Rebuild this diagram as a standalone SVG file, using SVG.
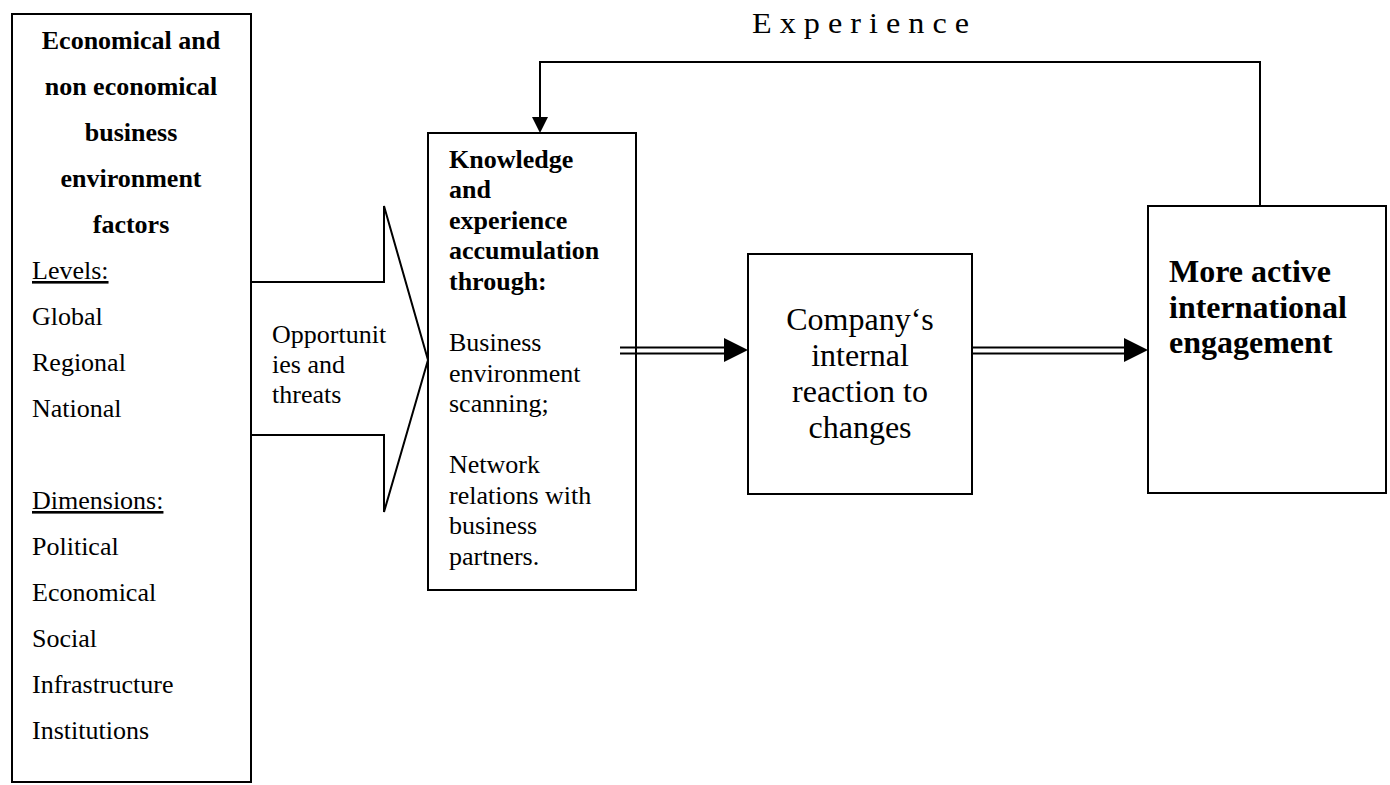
<svg xmlns="http://www.w3.org/2000/svg" width="1390" height="785" viewBox="0 0 1390 785">
<style>
  .box { fill: #fff; stroke: #000; stroke-width: 2; }
  .ln { fill: none; stroke: #000; stroke-width: 2; }
  .t { font-family: "Liberation Serif", "Times New Roman", serif; fill: #000; }
  .s26 { font-size: 26px; }
  .s32 { font-size: 32px; }
  .b { font-weight: bold; }
  .u { text-decoration: underline; }
  .head { fill: #000; stroke: none; }
</style>
<rect width="1390" height="785" fill="#fff"/>

<g id="env-factors">
  <rect class="box" x="12" y="14" width="239" height="768"/>
  <g class="t s26 b" text-anchor="middle">
    <text x="131" y="49">Economical and</text>
    <text x="131" y="95">non economical</text>
    <text x="131" y="141">business</text>
    <text x="131" y="187">environment</text>
    <text x="131" y="233">factors</text>
  </g>
  <g class="t s26">
    <text x="32" y="279" class="u">Levels:</text>
    <text x="32" y="325">Global</text>
    <text x="32" y="371">Regional</text>
    <text x="32" y="417">National</text>
    <text x="32" y="509" class="u">Dimensions:</text>
    <text x="32" y="555">Political</text>
    <text x="32" y="601">Economical</text>
    <text x="32" y="647">Social</text>
    <text x="32" y="693">Infrastructure</text>
    <text x="32" y="739">Institutions</text>
  </g>
</g>

<g id="opportunities-arrow">
  <polygon class="box" points="251,282 384,282 384,206 428,360 384,512 384,435 251,435"/>
  <g class="t s26">
    <text x="272" y="343">Opportunit</text>
    <text x="272" y="373">ies and</text>
    <text x="272" y="403">threats</text>
  </g>
</g>

<g id="knowledge">
  <rect class="box" x="428" y="133" width="208" height="457"/>
  <g class="t s26 b">
    <text x="449" y="168">Knowledge</text>
    <text x="449" y="198">and</text>
    <text x="449" y="229">experience</text>
    <text x="449" y="259">accumulation</text>
    <text x="449" y="290">through:</text>
  </g>
  <g class="t s26">
    <text x="449" y="351">Business</text>
    <text x="449" y="382">environment</text>
    <text x="449" y="412">scanning;</text>
    <text x="449" y="473">Network</text>
    <text x="449" y="504">relations with</text>
    <text x="449" y="534">business</text>
    <text x="449" y="565">partners.</text>
  </g>
</g>

<g id="reaction">
  <rect class="box" x="748" y="254" width="224" height="240"/>
  <g class="t s32" text-anchor="middle">
    <text x="860" y="330">Company‘s</text>
    <text x="860" y="366">internal</text>
    <text x="860" y="402">reaction to</text>
    <text x="860" y="438">changes</text>
  </g>
</g>

<g id="engagement">
  <rect class="box" x="1148" y="206" width="238" height="287"/>
  <g class="t s32 b">
    <text x="1169" y="282">More active</text>
    <text x="1169" y="318">international</text>
    <text x="1169" y="353">engagement</text>
  </g>
</g>

<g id="connectors">
  <line class="ln" x1="620" y1="347.5" x2="726" y2="347.5"/>
  <line class="ln" x1="620" y1="353.5" x2="726" y2="353.5"/>
  <polygon class="head" points="724,338 748,350 724,362"/>
  <line class="ln" x1="972" y1="347.5" x2="1126" y2="347.5"/>
  <line class="ln" x1="972" y1="353.5" x2="1126" y2="353.5"/>
  <polygon class="head" points="1124,338 1148,350 1124,362"/>
  <polyline class="ln" points="1260,206 1260,62 540,62 540,118"/>
  <polygon class="head" points="532,117 548,117 540,133"/>
  <text class="t" x="752" y="33" font-size="30" textLength="217" lengthAdjust="spacingAndGlyphs">E x p e r i e n c e</text>
</g>
</svg>
